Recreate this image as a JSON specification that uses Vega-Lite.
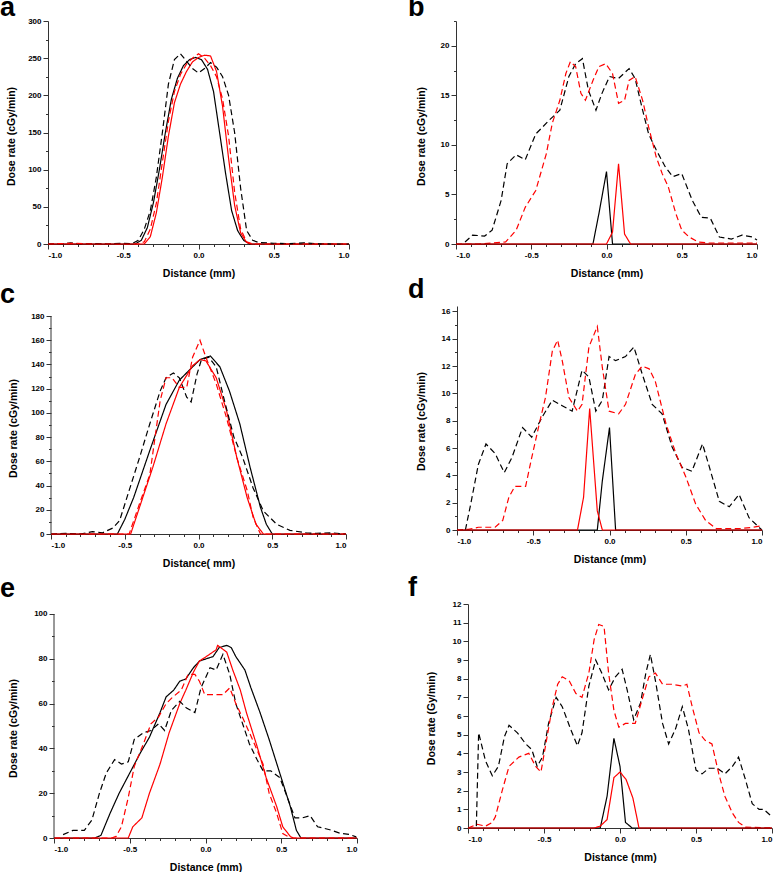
{
"$schema":"https://vega.github.io/schema/vega-lite/v6.json",
"padding":{"left":0,"top":-6,"right":0,"bottom":0},
"spacing":-4,
"config":{
 "view":{"stroke":null},
 "font":"Liberation Sans",
 "title":{"anchor":"start","frame":"group","fontSize":27,"font":"Liberation Sans","fontWeight":"bold","baseline":"alphabetic","offset":0,"color":"#000"},
 "axis":{"labelFont":"Liberation Sans","labelFontWeight":"bold","labelFontSize":8,"labelColor":"#000","titleFont":"Liberation Sans","titleFontWeight":"bold","titleFontSize":10.5,"titleColor":"#000","domainColor":"#333","tickColor":"#333","grid":false,"tickSize":5,"labelPadding":2}
},
"datasets":{
"A":[
{"x":-1,"y":0,"s":"Ks"},{"x":-0.42,"y":0,"s":"Ks"},{"x":-0.38,"y":5,"s":"Ks"},{"x":-0.34,"y":22,"s":"Ks"},{"x":-0.3,"y":55,"s":"Ks"},{"x":-0.26,"y":100,"s":"Ks"},{"x":-0.22,"y":150,"s":"Ks"},{"x":-0.18,"y":195,"s":"Ks"},{"x":-0.14,"y":223,"s":"Ks"},{"x":-0.1,"y":240,"s":"Ks"},{"x":-0.06,"y":248,"s":"Ks"},{"x":-0.02,"y":251,"s":"Ks"},{"x":0.02,"y":248,"s":"Ks"},{"x":0.06,"y":235,"s":"Ks"},{"x":0.1,"y":205,"s":"Ks"},{"x":0.14,"y":150,"s":"Ks"},{"x":0.18,"y":95,"s":"Ks"},{"x":0.22,"y":45,"s":"Ks"},{"x":0.26,"y":18,"s":"Ks"},{"x":0.3,"y":5,"s":"Ks"},{"x":0.34,"y":0,"s":"Ks"},{"x":1,"y":0,"s":"Ks"},
{"x":-1,"y":0,"s":"Rs"},{"x":-0.36,"y":0,"s":"Rs"},{"x":-0.32,"y":10,"s":"Rs"},{"x":-0.28,"y":42,"s":"Rs"},{"x":-0.24,"y":90,"s":"Rs"},{"x":-0.2,"y":145,"s":"Rs"},{"x":-0.16,"y":190,"s":"Rs"},{"x":-0.12,"y":215,"s":"Rs"},{"x":-0.08,"y":232,"s":"Rs"},{"x":-0.04,"y":245,"s":"Rs"},{"x":0,"y":251,"s":"Rs"},{"x":0.04,"y":254,"s":"Rs"},{"x":0.08,"y":253,"s":"Rs"},{"x":0.12,"y":232,"s":"Rs"},{"x":0.16,"y":185,"s":"Rs"},{"x":0.2,"y":115,"s":"Rs"},{"x":0.24,"y":52,"s":"Rs"},{"x":0.28,"y":15,"s":"Rs"},{"x":0.32,"y":2,"s":"Rs"},{"x":0.35,"y":0,"s":"Rs"},{"x":1,"y":0,"s":"Rs"},
{"x":-1,"y":0,"s":"Kd"},{"x":-0.9,"y":0.5,"s":"Kd"},{"x":-0.85,"y":1.5,"s":"Kd"},{"x":-0.8,"y":0.3,"s":"Kd"},{"x":-0.7,"y":0.5,"s":"Kd"},{"x":-0.6,"y":0,"s":"Kd"},{"x":-0.5,"y":1,"s":"Kd"},{"x":-0.44,"y":0.5,"s":"Kd"},{"x":-0.4,"y":5,"s":"Kd"},{"x":-0.36,"y":20,"s":"Kd"},{"x":-0.32,"y":45,"s":"Kd"},{"x":-0.28,"y":90,"s":"Kd"},{"x":-0.24,"y":150,"s":"Kd"},{"x":-0.2,"y":215,"s":"Kd"},{"x":-0.16,"y":248,"s":"Kd"},{"x":-0.12,"y":256,"s":"Kd"},{"x":-0.08,"y":246,"s":"Kd"},{"x":-0.04,"y":236,"s":"Kd"},{"x":0,"y":230,"s":"Kd"},{"x":0.04,"y":236,"s":"Kd"},{"x":0.08,"y":244,"s":"Kd"},{"x":0.12,"y":238,"s":"Kd"},{"x":0.16,"y":225,"s":"Kd"},{"x":0.2,"y":200,"s":"Kd"},{"x":0.24,"y":150,"s":"Kd"},{"x":0.28,"y":75,"s":"Kd"},{"x":0.32,"y":18,"s":"Kd"},{"x":0.36,"y":5,"s":"Kd"},{"x":0.4,"y":2,"s":"Kd"},{"x":0.5,"y":1,"s":"Kd"},{"x":0.6,"y":0.5,"s":"Kd"},{"x":0.7,"y":1.5,"s":"Kd"},{"x":0.8,"y":0.3,"s":"Kd"},{"x":0.9,"y":0,"s":"Kd"},{"x":1,"y":0,"s":"Kd"},
{"x":-1,"y":0,"s":"Rd"},{"x":-0.85,"y":1,"s":"Rd"},{"x":-0.7,"y":0,"s":"Rd"},{"x":-0.4,"y":0,"s":"Rd"},{"x":-0.36,"y":3,"s":"Rd"},{"x":-0.32,"y":20,"s":"Rd"},{"x":-0.28,"y":55,"s":"Rd"},{"x":-0.24,"y":110,"s":"Rd"},{"x":-0.2,"y":165,"s":"Rd"},{"x":-0.16,"y":205,"s":"Rd"},{"x":-0.12,"y":228,"s":"Rd"},{"x":-0.08,"y":242,"s":"Rd"},{"x":-0.04,"y":250,"s":"Rd"},{"x":0,"y":256,"s":"Rd"},{"x":0.04,"y":250,"s":"Rd"},{"x":0.08,"y":240,"s":"Rd"},{"x":0.12,"y":225,"s":"Rd"},{"x":0.16,"y":195,"s":"Rd"},{"x":0.2,"y":145,"s":"Rd"},{"x":0.24,"y":70,"s":"Rd"},{"x":0.28,"y":20,"s":"Rd"},{"x":0.32,"y":3,"s":"Rd"},{"x":0.36,"y":0,"s":"Rd"},{"x":1,"y":0,"s":"Rd"}
],
"B":[
{"x":-0.94,"y":0.2,"s":"Kd"},{"x":-0.89,"y":0.9,"s":"Kd"},{"x":-0.81,"y":0.8,"s":"Kd"},{"x":-0.76,"y":1.4,"s":"Kd"},{"x":-0.7,"y":4.4,"s":"Kd"},{"x":-0.66,"y":8.1,"s":"Kd"},{"x":-0.6,"y":9,"s":"Kd"},{"x":-0.54,"y":8.5,"s":"Kd"},{"x":-0.47,"y":11.1,"s":"Kd"},{"x":-0.38,"y":12.5,"s":"Kd"},{"x":-0.31,"y":13.5,"s":"Kd"},{"x":-0.25,"y":16.9,"s":"Kd"},{"x":-0.205,"y":18.2,"s":"Kd"},{"x":-0.16,"y":18.7,"s":"Kd"},{"x":-0.12,"y":15.5,"s":"Kd"},{"x":-0.07,"y":13.5,"s":"Kd"},{"x":-0.03,"y":15.2,"s":"Kd"},{"x":0.02,"y":16.9,"s":"Kd"},{"x":0.08,"y":16.7,"s":"Kd"},{"x":0.15,"y":17.7,"s":"Kd"},{"x":0.19,"y":16.7,"s":"Kd"},{"x":0.24,"y":13.5,"s":"Kd"},{"x":0.28,"y":11.1,"s":"Kd"},{"x":0.33,"y":9.5,"s":"Kd"},{"x":0.39,"y":7.8,"s":"Kd"},{"x":0.44,"y":6.8,"s":"Kd"},{"x":0.5,"y":7.1,"s":"Kd"},{"x":0.57,"y":4.4,"s":"Kd"},{"x":0.63,"y":2.7,"s":"Kd"},{"x":0.69,"y":2.6,"s":"Kd"},{"x":0.75,"y":0.7,"s":"Kd"},{"x":0.83,"y":0.5,"s":"Kd"},{"x":0.9,"y":0.9,"s":"Kd"},{"x":0.97,"y":0.7,"s":"Kd"},{"x":1,"y":0.4,"s":"Kd"},
{"x":-1,"y":0,"s":"Rd"},{"x":-0.85,"y":0,"s":"Rd"},{"x":-0.67,"y":0.2,"s":"Rd"},{"x":-0.6,"y":1.4,"s":"Rd"},{"x":-0.54,"y":3.7,"s":"Rd"},{"x":-0.47,"y":5.4,"s":"Rd"},{"x":-0.4,"y":9.1,"s":"Rd"},{"x":-0.36,"y":12.2,"s":"Rd"},{"x":-0.31,"y":14.5,"s":"Rd"},{"x":-0.27,"y":17.2,"s":"Rd"},{"x":-0.24,"y":18.4,"s":"Rd"},{"x":-0.205,"y":17.9,"s":"Rd"},{"x":-0.17,"y":15.2,"s":"Rd"},{"x":-0.14,"y":14.5,"s":"Rd"},{"x":-0.09,"y":16.5,"s":"Rd"},{"x":-0.05,"y":17.9,"s":"Rd"},{"x":-0.005,"y":18.2,"s":"Rd"},{"x":0.04,"y":17.2,"s":"Rd"},{"x":0.08,"y":14.2,"s":"Rd"},{"x":0.12,"y":14.5,"s":"Rd"},{"x":0.15,"y":16.5,"s":"Rd"},{"x":0.19,"y":16.9,"s":"Rd"},{"x":0.24,"y":14.5,"s":"Rd"},{"x":0.28,"y":11.8,"s":"Rd"},{"x":0.33,"y":8.8,"s":"Rd"},{"x":0.37,"y":7.1,"s":"Rd"},{"x":0.41,"y":5.8,"s":"Rd"},{"x":0.46,"y":3.1,"s":"Rd"},{"x":0.5,"y":1.4,"s":"Rd"},{"x":0.55,"y":0.7,"s":"Rd"},{"x":0.61,"y":0.2,"s":"Rd"},{"x":0.68,"y":0.1,"s":"Rd"},{"x":1,"y":0.1,"s":"Rd"},
{"x":-1,"y":0,"s":"Ks"},{"x":-0.09,"y":0,"s":"Ks"},{"x":-0.05,"y":3.1,"s":"Ks"},{"x":0,"y":7.3,"s":"Ks"},{"x":0.04,"y":0,"s":"Ks"},{"x":1,"y":0,"s":"Ks"},
{"x":-1,"y":0,"s":"Rs"},{"x":0,"y":0,"s":"Rs"},{"x":0.04,"y":1.2,"s":"Rs"},{"x":0.08,"y":8.1,"s":"Rs"},{"x":0.12,"y":1,"s":"Rs"},{"x":0.16,"y":0,"s":"Rs"},{"x":1,"y":0,"s":"Rs"}
],
"C":[
{"x":-1,"y":0,"s":"Ks"},{"x":-0.55,"y":0,"s":"Ks"},{"x":-0.5,"y":12,"s":"Ks"},{"x":-0.44,"y":30,"s":"Ks"},{"x":-0.33,"y":69,"s":"Ks"},{"x":-0.22,"y":107,"s":"Ks"},{"x":-0.13,"y":127,"s":"Ks"},{"x":-0.04,"y":138,"s":"Ks"},{"x":0.01,"y":144,"s":"Ks"},{"x":0.08,"y":147,"s":"Ks"},{"x":0.145,"y":138,"s":"Ks"},{"x":0.21,"y":118,"s":"Ks"},{"x":0.28,"y":91,"s":"Ks"},{"x":0.35,"y":55,"s":"Ks"},{"x":0.42,"y":22,"s":"Ks"},{"x":0.46,"y":8,"s":"Ks"},{"x":0.5,"y":0,"s":"Ks"},{"x":1,"y":0,"s":"Ks"},
{"x":-1,"y":0,"s":"Rs"},{"x":-0.46,"y":0,"s":"Rs"},{"x":-0.4,"y":22,"s":"Rs"},{"x":-0.31,"y":55,"s":"Rs"},{"x":-0.22,"y":91,"s":"Rs"},{"x":-0.13,"y":121,"s":"Rs"},{"x":-0.04,"y":139,"s":"Rs"},{"x":0.01,"y":144,"s":"Rs"},{"x":0.05,"y":143,"s":"Rs"},{"x":0.12,"y":129,"s":"Rs"},{"x":0.19,"y":102,"s":"Rs"},{"x":0.26,"y":63,"s":"Rs"},{"x":0.33,"y":30,"s":"Rs"},{"x":0.39,"y":8,"s":"Rs"},{"x":0.44,"y":0,"s":"Rs"},{"x":1,"y":0,"s":"Rs"},
{"x":-1,"y":0,"s":"Kd"},{"x":-0.9,"y":0.5,"s":"Kd"},{"x":-0.8,"y":0,"s":"Kd"},{"x":-0.72,"y":2,"s":"Kd"},{"x":-0.65,"y":1,"s":"Kd"},{"x":-0.58,"y":5,"s":"Kd"},{"x":-0.535,"y":11,"s":"Kd"},{"x":-0.47,"y":36,"s":"Kd"},{"x":-0.4,"y":63,"s":"Kd"},{"x":-0.33,"y":91,"s":"Kd"},{"x":-0.26,"y":118,"s":"Kd"},{"x":-0.22,"y":129,"s":"Kd"},{"x":-0.17,"y":133,"s":"Kd"},{"x":-0.13,"y":129,"s":"Kd"},{"x":-0.08,"y":113,"s":"Kd"},{"x":-0.05,"y":109,"s":"Kd"},{"x":-0.01,"y":132,"s":"Kd"},{"x":0.02,"y":144,"s":"Kd"},{"x":0.07,"y":146,"s":"Kd"},{"x":0.12,"y":138,"s":"Kd"},{"x":0.17,"y":113,"s":"Kd"},{"x":0.24,"y":80,"s":"Kd"},{"x":0.3,"y":63,"s":"Kd"},{"x":0.37,"y":38,"s":"Kd"},{"x":0.44,"y":19,"s":"Kd"},{"x":0.53,"y":8,"s":"Kd"},{"x":0.62,"y":3,"s":"Kd"},{"x":0.73,"y":1,"s":"Kd"},{"x":0.8,"y":0.5,"s":"Kd"},{"x":0.9,"y":1,"s":"Kd"},{"x":1,"y":0,"s":"Kd"},
{"x":-1,"y":0,"s":"Rd"},{"x":-0.47,"y":0,"s":"Rd"},{"x":-0.4,"y":25,"s":"Rd"},{"x":-0.33,"y":49,"s":"Rd"},{"x":-0.26,"y":110,"s":"Rd"},{"x":-0.22,"y":129,"s":"Rd"},{"x":-0.18,"y":129,"s":"Rd"},{"x":-0.13,"y":121,"s":"Rd"},{"x":-0.08,"y":121,"s":"Rd"},{"x":-0.04,"y":146,"s":"Rd"},{"x":0.01,"y":160,"s":"Rd"},{"x":0.05,"y":146,"s":"Rd"},{"x":0.12,"y":124,"s":"Rd"},{"x":0.19,"y":96,"s":"Rd"},{"x":0.26,"y":63,"s":"Rd"},{"x":0.33,"y":36,"s":"Rd"},{"x":0.37,"y":14,"s":"Rd"},{"x":0.42,"y":0,"s":"Rd"},{"x":1,"y":0,"s":"Rd"}
],
"D":[
{"x":-0.945,"y":0,"s":"Kd"},{"x":-0.91,"y":1.9,"s":"Kd"},{"x":-0.86,"y":4.8,"s":"Kd"},{"x":-0.81,"y":6.3,"s":"Kd"},{"x":-0.75,"y":5.6,"s":"Kd"},{"x":-0.69,"y":4.2,"s":"Kd"},{"x":-0.64,"y":5.3,"s":"Kd"},{"x":-0.57,"y":7.5,"s":"Kd"},{"x":-0.51,"y":6.8,"s":"Kd"},{"x":-0.44,"y":8.3,"s":"Kd"},{"x":-0.375,"y":9.5,"s":"Kd"},{"x":-0.31,"y":9.1,"s":"Kd"},{"x":-0.245,"y":8.7,"s":"Kd"},{"x":-0.18,"y":11.7,"s":"Kd"},{"x":-0.135,"y":11.2,"s":"Kd"},{"x":-0.09,"y":8.7,"s":"Kd"},{"x":-0.047,"y":9.5,"s":"Kd"},{"x":-0.003,"y":12.7,"s":"Kd"},{"x":0.04,"y":12.4,"s":"Kd"},{"x":0.105,"y":12.7,"s":"Kd"},{"x":0.16,"y":13.4,"s":"Kd"},{"x":0.215,"y":11.4,"s":"Kd"},{"x":0.28,"y":9.2,"s":"Kd"},{"x":0.345,"y":8.5,"s":"Kd"},{"x":0.41,"y":6.1,"s":"Kd"},{"x":0.475,"y":4.6,"s":"Kd"},{"x":0.54,"y":4.3,"s":"Kd"},{"x":0.61,"y":6.3,"s":"Kd"},{"x":0.65,"y":4.8,"s":"Kd"},{"x":0.72,"y":2.1,"s":"Kd"},{"x":0.785,"y":1.7,"s":"Kd"},{"x":0.85,"y":2.6,"s":"Kd"},{"x":0.915,"y":0.9,"s":"Kd"},{"x":0.98,"y":0.2,"s":"Kd"},{"x":1,"y":0,"s":"Kd"},
{"x":-1,"y":0,"s":"Rd"},{"x":-0.925,"y":0.05,"s":"Rd"},{"x":-0.86,"y":0.2,"s":"Rd"},{"x":-0.75,"y":0.2,"s":"Rd"},{"x":-0.7,"y":0.7,"s":"Rd"},{"x":-0.66,"y":2.4,"s":"Rd"},{"x":-0.62,"y":3.2,"s":"Rd"},{"x":-0.55,"y":3.2,"s":"Rd"},{"x":-0.51,"y":5.3,"s":"Rd"},{"x":-0.46,"y":7.8,"s":"Rd"},{"x":-0.42,"y":9.7,"s":"Rd"},{"x":-0.375,"y":13.1,"s":"Rd"},{"x":-0.34,"y":13.9,"s":"Rd"},{"x":-0.31,"y":12.4,"s":"Rd"},{"x":-0.266,"y":9.7,"s":"Rd"},{"x":-0.21,"y":8.7,"s":"Rd"},{"x":-0.18,"y":9.2,"s":"Rd"},{"x":-0.135,"y":13.4,"s":"Rd"},{"x":-0.08,"y":14.9,"s":"Rd"},{"x":-0.047,"y":11.9,"s":"Rd"},{"x":-0.003,"y":8.7,"s":"Rd"},{"x":0.06,"y":8.5,"s":"Rd"},{"x":0.105,"y":9.2,"s":"Rd"},{"x":0.17,"y":11.4,"s":"Rd"},{"x":0.215,"y":12,"s":"Rd"},{"x":0.26,"y":11.8,"s":"Rd"},{"x":0.3,"y":10.9,"s":"Rd"},{"x":0.37,"y":7.8,"s":"Rd"},{"x":0.435,"y":5.6,"s":"Rd"},{"x":0.5,"y":3.9,"s":"Rd"},{"x":0.565,"y":1.9,"s":"Rd"},{"x":0.63,"y":0.7,"s":"Rd"},{"x":0.7,"y":0.1,"s":"Rd"},{"x":0.85,"y":0.1,"s":"Rd"},{"x":0.94,"y":0.2,"s":"Rd"},{"x":0.99,"y":0.3,"s":"Rd"},
{"x":-1,"y":0,"s":"Ks"},{"x":-0.08,"y":0,"s":"Ks"},{"x":-0.047,"y":3.6,"s":"Ks"},{"x":0,"y":7.5,"s":"Ks"},{"x":0.04,"y":0,"s":"Ks"},{"x":1,"y":0,"s":"Ks"},
{"x":-1,"y":0,"s":"Rs"},{"x":-0.21,"y":0,"s":"Rs"},{"x":-0.17,"y":2.4,"s":"Rs"},{"x":-0.13,"y":8.9,"s":"Rs"},{"x":-0.08,"y":1.4,"s":"Rs"},{"x":-0.047,"y":0,"s":"Rs"},{"x":1,"y":0,"s":"Rs"}
],
"E":[
{"x":-1,"y":0,"s":"Ks"},{"x":-0.73,"y":0,"s":"Ks"},{"x":-0.69,"y":1.2,"s":"Ks"},{"x":-0.63,"y":11,"s":"Ks"},{"x":-0.57,"y":20,"s":"Ks"},{"x":-0.5,"y":29,"s":"Ks"},{"x":-0.43,"y":38,"s":"Ks"},{"x":-0.37,"y":45,"s":"Ks"},{"x":-0.3,"y":56,"s":"Ks"},{"x":-0.26,"y":63,"s":"Ks"},{"x":-0.21,"y":66,"s":"Ks"},{"x":-0.17,"y":70,"s":"Ks"},{"x":-0.13,"y":71,"s":"Ks"},{"x":-0.08,"y":76,"s":"Ks"},{"x":-0.04,"y":79,"s":"Ks"},{"x":0.005,"y":80,"s":"Ks"},{"x":0.05,"y":81,"s":"Ks"},{"x":0.09,"y":85,"s":"Ks"},{"x":0.14,"y":86,"s":"Ks"},{"x":0.17,"y":85,"s":"Ks"},{"x":0.2,"y":81,"s":"Ks"},{"x":0.26,"y":75,"s":"Ks"},{"x":0.3,"y":67,"s":"Ks"},{"x":0.36,"y":56,"s":"Ks"},{"x":0.42,"y":44,"s":"Ks"},{"x":0.49,"y":29,"s":"Ks"},{"x":0.56,"y":14,"s":"Ks"},{"x":0.6,"y":3.4,"s":"Ks"},{"x":0.63,"y":0,"s":"Ks"},{"x":1,"y":0,"s":"Ks"},
{"x":-1,"y":0,"s":"Rs"},{"x":-0.51,"y":0,"s":"Rs"},{"x":-0.48,"y":5,"s":"Rs"},{"x":-0.42,"y":9,"s":"Rs"},{"x":-0.37,"y":20,"s":"Rs"},{"x":-0.3,"y":33,"s":"Rs"},{"x":-0.24,"y":47,"s":"Rs"},{"x":-0.17,"y":60,"s":"Rs"},{"x":-0.13,"y":66,"s":"Rs"},{"x":-0.08,"y":74,"s":"Rs"},{"x":-0.04,"y":79,"s":"Rs"},{"x":0.005,"y":81,"s":"Rs"},{"x":0.07,"y":84,"s":"Rs"},{"x":0.08,"y":86,"s":"Rs"},{"x":0.14,"y":83,"s":"Rs"},{"x":0.18,"y":75,"s":"Rs"},{"x":0.23,"y":66,"s":"Rs"},{"x":0.27,"y":56,"s":"Rs"},{"x":0.34,"y":41,"s":"Rs"},{"x":0.4,"y":27,"s":"Rs"},{"x":0.47,"y":14,"s":"Rs"},{"x":0.51,"y":5,"s":"Rs"},{"x":0.56,"y":0.7,"s":"Rs"},{"x":0.58,"y":0,"s":"Rs"},{"x":1,"y":0,"s":"Rs"},
{"x":-0.94,"y":1.5,"s":"Kd"},{"x":-0.875,"y":3.4,"s":"Kd"},{"x":-0.8,"y":3.4,"s":"Kd"},{"x":-0.75,"y":8,"s":"Kd"},{"x":-0.7,"y":20,"s":"Kd"},{"x":-0.655,"y":29,"s":"Kd"},{"x":-0.6,"y":35,"s":"Kd"},{"x":-0.555,"y":33,"s":"Kd"},{"x":-0.51,"y":34,"s":"Kd"},{"x":-0.47,"y":44,"s":"Kd"},{"x":-0.41,"y":47,"s":"Kd"},{"x":-0.36,"y":48,"s":"Kd"},{"x":-0.31,"y":51,"s":"Kd"},{"x":-0.27,"y":48,"s":"Kd"},{"x":-0.225,"y":57,"s":"Kd"},{"x":-0.17,"y":61,"s":"Kd"},{"x":-0.125,"y":58,"s":"Kd"},{"x":-0.07,"y":56,"s":"Kd"},{"x":-0.03,"y":67,"s":"Kd"},{"x":0.03,"y":76,"s":"Kd"},{"x":0.07,"y":75,"s":"Kd"},{"x":0.115,"y":82,"s":"Kd"},{"x":0.16,"y":73,"s":"Kd"},{"x":0.2,"y":60,"s":"Kd"},{"x":0.25,"y":50,"s":"Kd"},{"x":0.29,"y":42,"s":"Kd"},{"x":0.34,"y":35,"s":"Kd"},{"x":0.38,"y":30,"s":"Kd"},{"x":0.43,"y":30,"s":"Kd"},{"x":0.49,"y":27,"s":"Kd"},{"x":0.53,"y":20,"s":"Kd"},{"x":0.59,"y":9,"s":"Kd"},{"x":0.64,"y":9,"s":"Kd"},{"x":0.69,"y":10,"s":"Kd"},{"x":0.74,"y":5,"s":"Kd"},{"x":0.82,"y":3.7,"s":"Kd"},{"x":0.885,"y":2.2,"s":"Kd"},{"x":0.95,"y":1.6,"s":"Kd"},{"x":0.995,"y":0.5,"s":"Kd"},
{"x":-1,"y":0,"s":"Rd"},{"x":-0.62,"y":0,"s":"Rd"},{"x":-0.59,"y":0.7,"s":"Rd"},{"x":-0.555,"y":5,"s":"Rd"},{"x":-0.51,"y":18,"s":"Rd"},{"x":-0.47,"y":32,"s":"Rd"},{"x":-0.41,"y":42,"s":"Rd"},{"x":-0.36,"y":51,"s":"Rd"},{"x":-0.31,"y":54,"s":"Rd"},{"x":-0.26,"y":60,"s":"Rd"},{"x":-0.215,"y":63,"s":"Rd"},{"x":-0.16,"y":66,"s":"Rd"},{"x":-0.115,"y":73,"s":"Rd"},{"x":-0.07,"y":73,"s":"Rd"},{"x":-0.04,"y":70,"s":"Rd"},{"x":-0.005,"y":64,"s":"Rd"},{"x":0.05,"y":64,"s":"Rd"},{"x":0.115,"y":64,"s":"Rd"},{"x":0.16,"y":67,"s":"Rd"},{"x":0.2,"y":60,"s":"Rd"},{"x":0.25,"y":53,"s":"Rd"},{"x":0.31,"y":44,"s":"Rd"},{"x":0.38,"y":33,"s":"Rd"},{"x":0.42,"y":20,"s":"Rd"},{"x":0.47,"y":11,"s":"Rd"},{"x":0.51,"y":2,"s":"Rd"},{"x":0.56,"y":0,"s":"Rd"},{"x":1,"y":0,"s":"Rd"}
],
"F":[
{"x":-0.945,"y":0.1,"s":"Kd"},{"x":-0.93,"y":5.1,"s":"Kd"},{"x":-0.885,"y":3.6,"s":"Kd"},{"x":-0.84,"y":2.8,"s":"Kd"},{"x":-0.8,"y":3.3,"s":"Kd"},{"x":-0.76,"y":4.9,"s":"Kd"},{"x":-0.73,"y":5.5,"s":"Kd"},{"x":-0.675,"y":5.1,"s":"Kd"},{"x":-0.62,"y":4.5,"s":"Kd"},{"x":-0.58,"y":4.2,"s":"Kd"},{"x":-0.545,"y":3.3,"s":"Kd"},{"x":-0.51,"y":3.8,"s":"Kd"},{"x":-0.47,"y":5.6,"s":"Kd"},{"x":-0.42,"y":7,"s":"Kd"},{"x":-0.38,"y":6.5,"s":"Kd"},{"x":-0.325,"y":5.3,"s":"Kd"},{"x":-0.28,"y":4.4,"s":"Kd"},{"x":-0.25,"y":5.1,"s":"Kd"},{"x":-0.205,"y":7.6,"s":"Kd"},{"x":-0.16,"y":9,"s":"Kd"},{"x":-0.12,"y":8.3,"s":"Kd"},{"x":-0.075,"y":7.4,"s":"Kd"},{"x":-0.03,"y":8.1,"s":"Kd"},{"x":0.014,"y":8.5,"s":"Kd"},{"x":0.047,"y":7.4,"s":"Kd"},{"x":0.09,"y":5.8,"s":"Kd"},{"x":0.135,"y":6.7,"s":"Kd"},{"x":0.17,"y":8.3,"s":"Kd"},{"x":0.2,"y":9.3,"s":"Kd"},{"x":0.233,"y":7.9,"s":"Kd"},{"x":0.28,"y":5.6,"s":"Kd"},{"x":0.32,"y":4.5,"s":"Kd"},{"x":0.365,"y":5.3,"s":"Kd"},{"x":0.41,"y":6.5,"s":"Kd"},{"x":0.45,"y":5.3,"s":"Kd"},{"x":0.5,"y":3.1,"s":"Kd"},{"x":0.54,"y":2.9,"s":"Kd"},{"x":0.585,"y":3.2,"s":"Kd"},{"x":0.64,"y":3.2,"s":"Kd"},{"x":0.69,"y":2.9,"s":"Kd"},{"x":0.74,"y":3.3,"s":"Kd"},{"x":0.78,"y":3.8,"s":"Kd"},{"x":0.825,"y":2.6,"s":"Kd"},{"x":0.87,"y":1.3,"s":"Kd"},{"x":0.915,"y":1,"s":"Kd"},{"x":0.945,"y":1,"s":"Kd"},{"x":1,"y":0.6,"s":"Kd"},
{"x":-1,"y":0,"s":"Rd"},{"x":-0.94,"y":0.2,"s":"Rd"},{"x":-0.885,"y":0.1,"s":"Rd"},{"x":-0.84,"y":0.3,"s":"Rd"},{"x":-0.82,"y":0.6,"s":"Rd"},{"x":-0.775,"y":2,"s":"Rd"},{"x":-0.73,"y":3.3,"s":"Rd"},{"x":-0.665,"y":3.8,"s":"Rd"},{"x":-0.6,"y":4,"s":"Rd"},{"x":-0.555,"y":3.3,"s":"Rd"},{"x":-0.52,"y":3,"s":"Rd"},{"x":-0.49,"y":4.4,"s":"Rd"},{"x":-0.445,"y":6.5,"s":"Rd"},{"x":-0.41,"y":7.7,"s":"Rd"},{"x":-0.38,"y":8.1,"s":"Rd"},{"x":-0.335,"y":7.9,"s":"Rd"},{"x":-0.29,"y":7.2,"s":"Rd"},{"x":-0.25,"y":7,"s":"Rd"},{"x":-0.205,"y":8.3,"s":"Rd"},{"x":-0.17,"y":10.1,"s":"Rd"},{"x":-0.14,"y":10.9,"s":"Rd"},{"x":-0.105,"y":10.8,"s":"Rd"},{"x":-0.075,"y":8.3,"s":"Rd"},{"x":-0.04,"y":6.3,"s":"Rd"},{"x":-0.008,"y":5.4,"s":"Rd"},{"x":0.036,"y":5.6,"s":"Rd"},{"x":0.1,"y":5.6,"s":"Rd"},{"x":0.146,"y":6.9,"s":"Rd"},{"x":0.19,"y":8.1,"s":"Rd"},{"x":0.233,"y":8.3,"s":"Rd"},{"x":0.28,"y":7.7,"s":"Rd"},{"x":0.345,"y":7.7,"s":"Rd"},{"x":0.41,"y":7.6,"s":"Rd"},{"x":0.44,"y":7.7,"s":"Rd"},{"x":0.475,"y":6.5,"s":"Rd"},{"x":0.52,"y":5.1,"s":"Rd"},{"x":0.56,"y":4.7,"s":"Rd"},{"x":0.605,"y":4.5,"s":"Rd"},{"x":0.65,"y":2.9,"s":"Rd"},{"x":0.69,"y":1.7,"s":"Rd"},{"x":0.74,"y":0.8,"s":"Rd"},{"x":0.78,"y":0.3,"s":"Rd"},{"x":0.825,"y":0.05,"s":"Rd"},{"x":1,"y":0,"s":"Rd"},
{"x":-1,"y":0,"s":"Ks"},{"x":-0.13,"y":0,"s":"Ks"},{"x":-0.085,"y":1.7,"s":"Ks"},{"x":-0.04,"y":4.8,"s":"Ks"},{"x":0,"y":3.3,"s":"Ks"},{"x":0.036,"y":0.3,"s":"Ks"},{"x":0.08,"y":0,"s":"Ks"},{"x":1,"y":0,"s":"Ks"},
{"x":-1,"y":0,"s":"Rs"},{"x":-0.17,"y":0,"s":"Rs"},{"x":-0.13,"y":0.1,"s":"Rs"},{"x":-0.085,"y":0.45,"s":"Rs"},{"x":-0.04,"y":2.7,"s":"Rs"},{"x":0,"y":3,"s":"Rs"},{"x":0.04,"y":2.6,"s":"Rs"},{"x":0.085,"y":1.6,"s":"Rs"},{"x":0.125,"y":0,"s":"Rs"},{"x":1,"y":0,"s":"Rs"}
],
"empty":[],
"one":[{"k":1}]
},
"vconcat":[
 {"hconcat":[
  {"width":301,"height":223,"title":{"text":"a","dx":-48,"dy":9},"data":{"name":"A"},
   "layer":[
    {"mark":{"type":"line","strokeWidth":1.2},
     "encoding":{
      "x":{"field":"x","type":"quantitative","scale":{"domain":[-1,1],"nice":false,"zero":false},"axis":{"orient":"bottom","values":[-1,-0.5,0,0.5,1],"labelExpr":"replace(format(datum.value,'.1f'),'\u2212','-')","title":"Distance (mm)","titleY":24,"titleBaseline":"top"}},
      "y":{"field":"y","type":"quantitative","scale":{"domain":[0,300],"nice":false},"axis":{"orient":"left","values":[0,50,100,150,200,250,300],"title":"Dose rate (cGy/min)","titleX":-37,"titleY":115,"titleBaseline":"middle"}},
      "color":{"field":"s","type":"nominal","scale":{"domain":["Kd","Ks","Rd","Rs"],"range":["#000000","#000000","#ff0000","#ff0000"]},"legend":null},
      "strokeDash":{"field":"s","type":"nominal","scale":{"domain":["Kd","Ks","Rd","Rs"],"range":[[6,3.5],[1,0],[6,3.5],[1,0]]},"legend":null}}},
    {"mark":{"type":"line","opacity":0},
     "encoding":{
      "x":{"field":"x","type":"quantitative","scale":{"domain":[-1,1],"nice":false,"zero":false},"axis":{"orient":"bottom","values":[-0.9,-0.8,-0.7,-0.6,-0.4,-0.3,-0.2,-0.1,0.1,0.2,0.3,0.4,0.6,0.7,0.8,0.9],"labels":false,"domain":false,"tickSize":2.5,"title":null}},
      "y":{"field":"y","type":"quantitative","scale":{"domain":[0,300],"nice":false},"axis":{"orient":"left","values":[25,75,125,175,225,275],"labels":false,"domain":false,"tickSize":2.5,"title":null}}}}
   ],
   "resolve":{"axis":{"x":"independent","y":"independent"}}},
  {"width":107,"height":1,"data":{"name":"empty"},"mark":{"type":"point","opacity":0}},
  {"width":301,"height":223,"title":{"text":"b","dx":-48,"dy":5.5},"data":{"name":"B"},
   "layer":[
    {"mark":{"type":"line","strokeWidth":1.2},
     "encoding":{
      "x":{"field":"x","type":"quantitative","scale":{"domain":[-1,1],"nice":false,"zero":false},"axis":{"orient":"bottom","values":[-1,-0.5,0,0.5,1],"labelExpr":"replace(format(datum.value,'.1f'),'\u2212','-')","title":"Distance (mm)","titleY":24,"titleBaseline":"top"}},
      "y":{"field":"y","type":"quantitative","scale":{"domain":[0,22.5],"nice":false},"axis":{"orient":"left","values":[0,5,10,15,20],"title":"Dose rate (cGy/min)","titleX":-35,"titleY":115,"titleBaseline":"middle"}},
      "color":{"field":"s","type":"nominal","scale":{"domain":["Kd","Ks","Rd","Rs"],"range":["#000000","#000000","#ff0000","#ff0000"]},"legend":null},
      "strokeDash":{"field":"s","type":"nominal","scale":{"domain":["Kd","Ks","Rd","Rs"],"range":[[6,3.5],[1,0],[6,3.5],[1,0]]},"legend":null}}},
    {"mark":{"type":"line","opacity":0},
     "encoding":{
      "x":{"field":"x","type":"quantitative","scale":{"domain":[-1,1],"nice":false,"zero":false},"axis":{"orient":"bottom","values":[-0.9,-0.8,-0.7,-0.6,-0.4,-0.3,-0.2,-0.1,0.1,0.2,0.3,0.4,0.6,0.7,0.8,0.9],"labels":false,"domain":false,"tickSize":2.5,"title":null}},
      "y":{"field":"y","type":"quantitative","scale":{"domain":[0,22.5],"nice":false},"axis":{"orient":"left","values":[2.5,7.5,12.5,17.5,22.5],"labels":false,"domain":false,"tickSize":2.5,"title":null}}}}
   ],
   "resolve":{"axis":{"x":"independent","y":"independent"}}}
 ],"spacing":0,"bounds":"flush"},
 {"hconcat":[
  {"width":3,"height":1,"data":{"name":"empty"},"mark":{"type":"point","opacity":0}},
  {"width":295,"height":228,"title":{"text":"c","dx":-51,"dy":6.5},"data":{"name":"C"},
   "layer":[
    {"mark":{"type":"line","strokeWidth":1.2},
     "encoding":{
      "x":{"field":"x","type":"quantitative","scale":{"domain":[-1,1],"nice":false,"zero":false},"axis":{"orient":"bottom","values":[-1,-0.5,0,0.5,1],"labelExpr":"replace(format(datum.value,'.1f'),'\u2212','-')","title":"Distance( mm)","titleY":24,"titleBaseline":"top"}},
      "y":{"field":"y","type":"quantitative","scale":{"domain":[0,188.26],"nice":false},"axis":{"orient":"left","domain":false,"values":[0,20,40,60,80,100,120,140,160,180],"title":"Dose rate (cGy/min)","titleX":-38,"titleY":122,"titleBaseline":"middle"}},
      "color":{"field":"s","type":"nominal","scale":{"domain":["Kd","Ks","Rd","Rs"],"range":["#000000","#000000","#ff0000","#ff0000"]},"legend":null},
      "strokeDash":{"field":"s","type":"nominal","scale":{"domain":["Kd","Ks","Rd","Rs"],"range":[[6,3.5],[1,0],[6,3.5],[1,0]]},"legend":null}}},
    {"mark":{"type":"line","opacity":0},
     "encoding":{
      "x":{"field":"x","type":"quantitative","scale":{"domain":[-1,1],"nice":false,"zero":false},"axis":{"orient":"bottom","values":[-0.9,-0.8,-0.7,-0.6,-0.4,-0.3,-0.2,-0.1,0.1,0.2,0.3,0.4,0.6,0.7,0.8,0.9],"labels":false,"domain":false,"tickSize":2.5,"title":null}},
      "y":{"field":"y","type":"quantitative","scale":{"domain":[0,188.26],"nice":false},"axis":{"orient":"left","values":[10,30,50,70,90,110,130,150,170],"labels":false,"domain":false,"tickSize":2.5,"title":null}}}},
    {"data":{"name":"one"},"mark":{"type":"rule","color":"#333","strokeWidth":1},
     "encoding":{
      "x":{"datum":-1,"type":"quantitative","scale":{"domain":[-1,1],"nice":false,"zero":false},"axis":null},
      "y":{"datum":0,"type":"quantitative","scale":{"domain":[0,188.26],"nice":false},"axis":null},
      "y2":{"datum":180}}}
   ],
   "resolve":{"axis":{"x":"independent","y":"independent"}}},
  {"width":111,"height":1,"data":{"name":"empty"},"mark":{"type":"point","opacity":0}},
  {"width":305,"height":224,"title":{"text":"d","dx":-49,"dy":1.5},"data":{"name":"D"},
   "layer":[
    {"mark":{"type":"line","strokeWidth":1.2},
     "encoding":{
      "x":{"field":"x","type":"quantitative","scale":{"domain":[-1,1],"nice":false,"zero":false},"axis":{"orient":"bottom","values":[-1,-0.5,0,0.5,1],"labelExpr":"replace(format(datum.value,'.1f'),'\u2212','-')","title":"Distance (mm)","titleY":24,"titleBaseline":"top"}},
      "y":{"field":"y","type":"quantitative","scale":{"domain":[0,16.4],"nice":false},"axis":{"orient":"left","values":[0,2,4,6,8,10,12,14,16],"title":"Dose rate (cGy/min)","titleX":-36,"titleY":115,"titleBaseline":"middle"}},
      "color":{"field":"s","type":"nominal","scale":{"domain":["Kd","Ks","Rd","Rs"],"range":["#000000","#000000","#ff0000","#ff0000"]},"legend":null},
      "strokeDash":{"field":"s","type":"nominal","scale":{"domain":["Kd","Ks","Rd","Rs"],"range":[[6,3.5],[1,0],[6,3.5],[1,0]]},"legend":null}}},
    {"mark":{"type":"line","opacity":0},
     "encoding":{
      "x":{"field":"x","type":"quantitative","scale":{"domain":[-1,1],"nice":false,"zero":false},"axis":{"orient":"bottom","values":[-0.9,-0.8,-0.7,-0.6,-0.4,-0.3,-0.2,-0.1,0.1,0.2,0.3,0.4,0.6,0.7,0.8,0.9],"labels":false,"domain":false,"tickSize":2.5,"title":null}},
      "y":{"field":"y","type":"quantitative","scale":{"domain":[0,16.4],"nice":false},"axis":{"orient":"left","values":[1,3,5,7,9,11,13,15],"labels":false,"domain":false,"tickSize":2.5,"title":null}}}}
   ],
   "resolve":{"axis":{"x":"independent","y":"independent"}}}
 ],"spacing":0,"bounds":"flush"},
 {"width":1,"height":9,"data":{"name":"empty"},"mark":{"type":"point","opacity":0}},
 {"hconcat":[
  {"width":6,"height":1,"data":{"name":"empty"},"mark":{"type":"point","opacity":0}},
  {"width":303,"height":234,"title":{"text":"e","dx":-54,"dy":2.5},"data":{"name":"E"},
   "layer":[
    {"mark":{"type":"line","strokeWidth":1.2},
     "encoding":{
      "x":{"field":"x","type":"quantitative","scale":{"domain":[-1,1],"nice":false,"zero":false},"axis":{"orient":"bottom","values":[-1,-0.5,0,0.5,1],"labelExpr":"replace(format(datum.value,'.1f'),'\u2212','-')","title":"Distance (mm)","titleY":24,"titleBaseline":"top"}},
      "y":{"field":"y","type":"quantitative","scale":{"domain":[0,104.46],"nice":false},"axis":{"orient":"left","domain":false,"values":[0,20,40,60,80,100],"title":"Dose rate (cGy/min)","titleX":-41,"titleY":124,"titleBaseline":"middle"}},
      "color":{"field":"s","type":"nominal","scale":{"domain":["Kd","Ks","Rd","Rs"],"range":["#000000","#000000","#ff0000","#ff0000"]},"legend":null},
      "strokeDash":{"field":"s","type":"nominal","scale":{"domain":["Kd","Ks","Rd","Rs"],"range":[[6,3.5],[1,0],[6,3.5],[1,0]]},"legend":null}}},
    {"mark":{"type":"line","opacity":0},
     "encoding":{
      "x":{"field":"x","type":"quantitative","scale":{"domain":[-1,1],"nice":false,"zero":false},"axis":{"orient":"bottom","values":[-0.9,-0.8,-0.7,-0.6,-0.4,-0.3,-0.2,-0.1,0.1,0.2,0.3,0.4,0.6,0.7,0.8,0.9],"labels":false,"domain":false,"tickSize":2.5,"title":null}},
      "y":{"field":"y","type":"quantitative","scale":{"domain":[0,104.46],"nice":false},"axis":{"orient":"left","values":[10,30,50,70,90],"labels":false,"domain":false,"tickSize":2.5,"title":null}}}},
    {"data":{"name":"one"},"mark":{"type":"rule","color":"#333","strokeWidth":1},
     "encoding":{
      "x":{"datum":-1,"type":"quantitative","scale":{"domain":[-1,1],"nice":false,"zero":false},"axis":null},
      "y":{"datum":0,"type":"quantitative","scale":{"domain":[0,104.46],"nice":false},"axis":null},
      "y2":{"datum":100}}}
   ],
   "resolve":{"axis":{"x":"independent","y":"independent"}}},
  {"width":111,"height":1,"data":{"name":"empty"},"mark":{"type":"point","opacity":0}},
  {"width":304,"height":224,"title":{"text":"f","dx":-60,"dy":6},"data":{"name":"F"},
   "layer":[
    {"mark":{"type":"line","strokeWidth":1.2},
     "encoding":{
      "x":{"field":"x","type":"quantitative","scale":{"domain":[-1,1],"nice":false,"zero":false},"axis":{"orient":"bottom","values":[-1,-0.5,0,0.5,1],"labelExpr":"replace(format(datum.value,'.1f'),'\u2212','-')","title":"Distance (mm)","titleY":24,"titleBaseline":"top"}},
      "y":{"field":"y","type":"quantitative","scale":{"domain":[0,12],"nice":false},"axis":{"orient":"left","values":[0,1,2,3,4,5,6,7,8,9,10,11,12],"title":"Dose rate (Gy/min)","titleX":-37,"titleY":114,"titleBaseline":"middle"}},
      "color":{"field":"s","type":"nominal","scale":{"domain":["Kd","Ks","Rd","Rs"],"range":["#000000","#000000","#ff0000","#ff0000"]},"legend":null},
      "strokeDash":{"field":"s","type":"nominal","scale":{"domain":["Kd","Ks","Rd","Rs"],"range":[[6,3.5],[1,0],[6,3.5],[1,0]]},"legend":null}}},
    {"mark":{"type":"line","opacity":0},
     "encoding":{
      "x":{"field":"x","type":"quantitative","scale":{"domain":[-1,1],"nice":false,"zero":false},"axis":{"orient":"bottom","values":[-0.9,-0.8,-0.7,-0.6,-0.4,-0.3,-0.2,-0.1,0.1,0.2,0.3,0.4,0.6,0.7,0.8,0.9],"labels":false,"domain":false,"tickSize":2.5,"title":null}}}}
   ],
   "resolve":{"axis":{"x":"independent","y":"independent"}}}
 ],"spacing":0,"bounds":"flush"}
]
}
